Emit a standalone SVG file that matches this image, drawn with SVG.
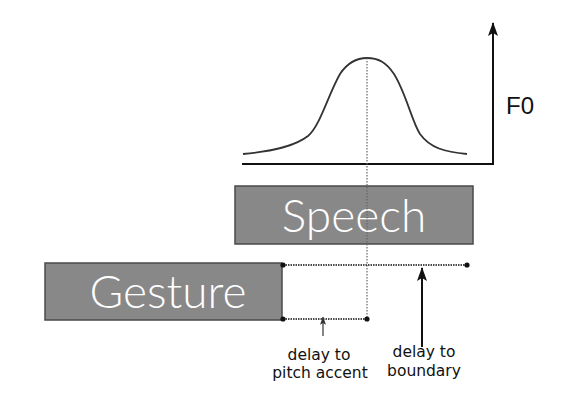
<svg xmlns="http://www.w3.org/2000/svg" width="570" height="396" viewBox="0 0 570 396">
<style>
.box{fill:#888888;stroke:#4a4a4a;stroke-width:1.5}
.big{font-family:"Lato","Liberation Sans",sans-serif;font-weight:300;font-size:46px;fill:#ffffff;text-anchor:middle}
.lbl{font-family:"DejaVu Sans",sans-serif;font-size:15.5px;fill:#111;text-anchor:middle}
.dot{stroke:#111;stroke-width:1.4;stroke-dasharray:1.5 1;fill:none}
.vdot{stroke:#666;stroke-width:1.2;stroke-dasharray:1.5 1.5;fill:none}
.ln{stroke:#111;stroke-width:2;fill:none}
</style>
<defs>
<marker id="ah" viewBox="0 0 14 10" refX="13" refY="5" markerWidth="14" markerHeight="10" markerUnits="userSpaceOnUse" orient="auto">
<path d="M14,5 L0,0 L3,5 L0,10 Z" fill="#111"/>
</marker>
<marker id="ahs" viewBox="0 0 14 10" refX="13" refY="5" markerWidth="9" markerHeight="6" markerUnits="userSpaceOnUse" orient="auto">
<path d="M14,5 L0,0 L3,5 L0,10 Z" fill="#333"/>
</marker>
</defs>
<rect width="570" height="396" fill="#ffffff"/>
<g id="f0-plot">
<path d="M243,154 C275,151 295,146 308,136 C320,126 328,95 340,74 C348,62 357,58 367,58 C378,58 386,62 394,74 C406,93 412,122 420,134 C430,148 445,152 467,154" fill="none" stroke="#333" stroke-width="1.8"/>
<path d="M242,164 L493,164 L493,23" class="ln" marker-end="url(#ah)"/>
<text x="506" y="114" style="font-family:'Liberation Sans',sans-serif;font-size:24px;fill:#111">F0</text>
</g>
<g id="speech">
<rect x="235" y="186" width="238" height="58" class="box"/>
<text x="354" y="232" class="big">Speech</text>
</g>
<g id="gesture">
<rect x="45" y="263" width="237" height="57" class="box"/>
<text x="168" y="308" class="big">Gesture</text>
</g>
<g id="connectors">
<line x1="367" y1="58" x2="367" y2="319" class="vdot"/>
<line x1="283" y1="265" x2="467" y2="265" class="dot"/>
<line x1="283" y1="319" x2="367" y2="319" class="dot"/>
<circle cx="283" cy="265" r="2.6" fill="#111"/>
<circle cx="467" cy="265" r="2.6" fill="#111"/>
<circle cx="283" cy="319" r="2.6" fill="#111"/>
<circle cx="367" cy="319" r="2.6" fill="#111"/>
<line x1="422" y1="347" x2="422" y2="268" class="ln" marker-end="url(#ah)"/>
<line x1="323" y1="336" x2="323" y2="317" stroke="#333" stroke-width="1.2" marker-end="url(#ahs)"/>
</g>
<g id="labels">
<text x="319" y="360" class="lbl">delay to</text>
<text x="320" y="378" class="lbl">pitch accent</text>
<text x="424" y="357" class="lbl">delay to</text>
<text x="424" y="376" class="lbl">boundary</text>
</g>
</svg>
